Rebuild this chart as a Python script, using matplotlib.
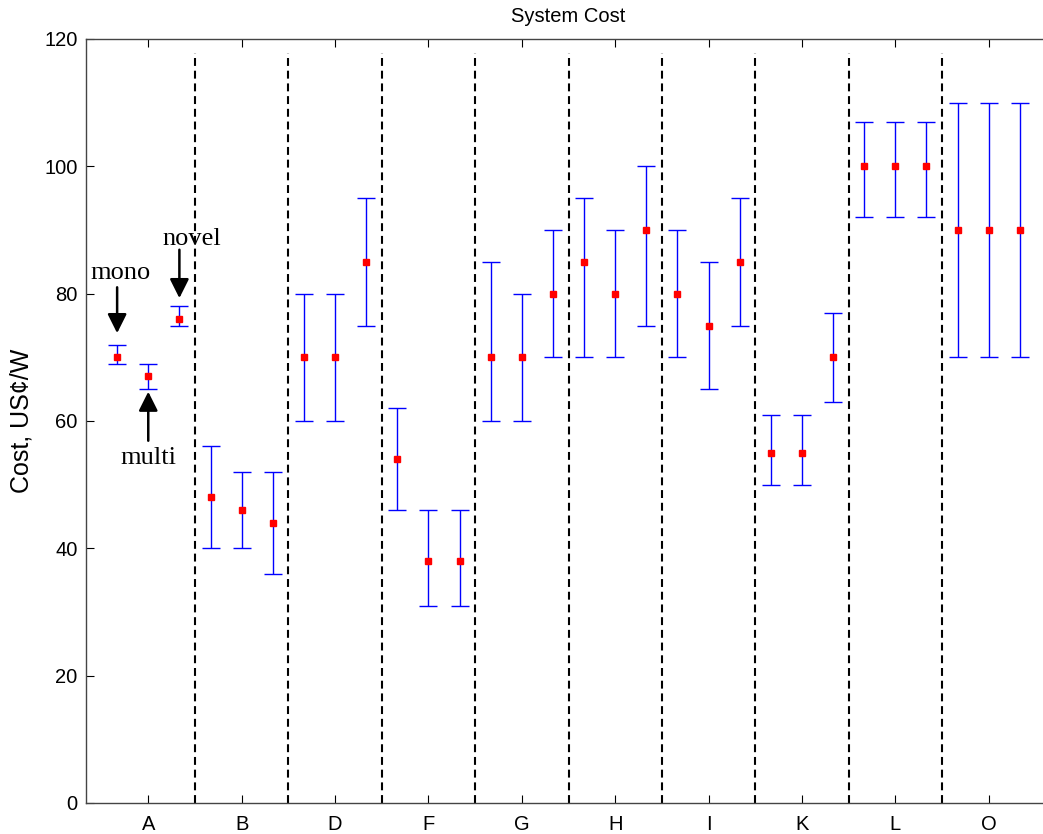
import numpy as np
import matplotlib.pyplot as plt

# groups of three estimates each
categories = ["A", "B", "D", "F", "G", "H", "I", "K", "L", "O"]

cost = [70, 67, 76,
        48, 46, 44,
        70, 70, 85,
        54, 38, 38,
        70, 70, 80,
        85, 80, 90,
        80, 75, 85,
        55, 55, 70,
        100, 100, 100,
        90, 90, 90]

cost_low = [69, 65, 75,
            40, 40, 36,
            60, 60, 75,
            46, 31, 31,
            60, 60, 70,
            70, 70, 75,
            70, 65, 75,
            50, 50, 63,
            92, 92, 92,
            70, 70, 70]

cost_high = [72, 69, 78,
             56, 52, 52,
             80, 80, 95,
             62, 46, 46,
             85, 80, 90,
             95, 90, 100,
             90, 85, 95,
             61, 61, 77,
             107, 107, 107,
             110, 110, 110]

# annotations on group A: label, text position, arrow start, arrow tip
notes = [("mono", (1.12, 83.2), (1, 81.0), (1, 73.8)),
         ("novel", (3.4, 88.6), (3, 86.9), (3, 79.3)),
         ("multi", (2.0, 54.2), (2, 56.9), (2, 64.6))]

plt.rcParams['font.family'] = ['Liberation Sans', 'DejaVu Sans']

x = np.arange(1, len(cost) + 1)
cost = np.array(cost)
yerr = [cost - np.array(cost_low), np.array(cost_high) - cost]

fig = plt.figure(figsize=(10.43, 8.34), dpi=100)
ax = fig.add_axes([86 / 1043, 31 / 834, 965 / 1043, 764 / 834])

# separators between groups
for k in range(1, len(categories)):
    ax.plot([3 * k + 0.5] * 2, [0, 117.8], color="black", ls=(0, (3.8, 2.3)), lw=1.5, zorder=1)

ax.errorbar(x, cost, yerr=yerr, fmt="none", ecolor="blue", elinewidth=1,
            capsize=6.5, capthick=1, zorder=2)
ax.plot(x, cost, "s", color="red", markersize=4.5, zorder=3)

for label, txt, start, tip in notes:
    ax.annotate("", xy=tip, xytext=start,
                arrowprops=dict(arrowstyle="-|>,head_width=0.29,head_length=0.58",
                                color="black", lw=1.8, mutation_scale=20, shrinkA=0, shrinkB=0))
    ax.text(txt[0], txt[1], label, ha="center", va="center",
            family="Liberation Serif", fontsize=19)

ax.set_xlim(0, 31)
ax.set_ylim(0, 120)
ax.set_xticks(np.arange(2, len(cost), 3))
ax.set_xticklabels(categories)
ax.set_yticks(np.arange(0, 121, 20))
ax.tick_params(direction="in", top=True, right=True, labelsize=14.5, length=6)
ax.tick_params(axis="y", pad=6)
ax.tick_params(axis="x", pad=9)
for s in ax.spines.values():
    s.set_linewidth(1.0)
    s.set_color("#444444")

ax.set_ylabel("Cost, US\u00a2/W", fontsize=18, labelpad=8)
ax.set_title("System Cost", fontsize=14.5, pad=12)

fig.savefig("out.png", dpi=100)
